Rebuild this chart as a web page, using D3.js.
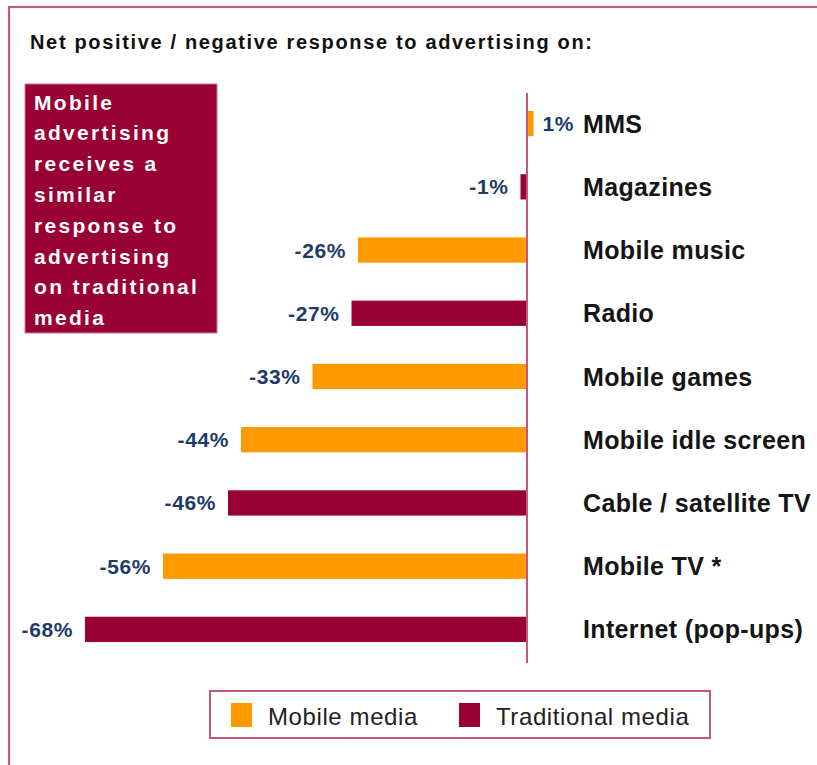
<!DOCTYPE html>
<html>
<head>
<meta charset="utf-8">
<script src="https://cdn.jsdelivr.net/npm/d3@7"></script>
<style>
  html, body { margin: 0; padding: 0; background: #ffffff; }
  svg { display: block; }
  text { font-family: "Liberation Sans", Arial, sans-serif; }
</style>
</head>
<body>
<svg id="chart" width="817" height="765"></svg>
<script>
// Survey results: net positive / negative response to advertising by medium
const categories = [
  "MMS", "Magazines", "Mobile music", "Radio", "Mobile games",
  "Mobile idle screen", "Cable / satellite TV", "Mobile TV *", "Internet (pop-ups)"
];
const values = [1, -1, -26, -27, -33, -44, -46, -56, -68];
const mediaTypes = [
  "Mobile media", "Traditional media", "Mobile media", "Traditional media", "Mobile media",
  "Mobile media", "Traditional media", "Mobile media", "Traditional media"
];
const legendLabels = ["Mobile media", "Traditional media"];
const titleText = "Net positive / negative response to advertising on:";
const noteLines = [
  "Mobile", "advertising", "receives a", "similar",
  "response to", "advertising", "on traditional", "media"
];

const ORANGE = "#ff9900";
const MAROON = "#990033";
const FRAME = "#c4577e";
const NAVY = "#1d3b69";

const svg = d3.select("#chart");

const color = d3.scaleOrdinal().domain(legendLabels).range([ORANGE, MAROON]);

const x = d3.scaleLinear().domain([-68, 0]).range([85, 527]);
const y = d3.scaleBand()
  .domain(categories)
  .range([92, 661])
  .paddingInner(0.6)
  .paddingOuter(0.3);

// Stretch text horizontally with letter spacing until it spans the given width
function fitWidth(sel, width) {
  sel.each(function () {
    const t = d3.select(this);
    const n = this.getNumberOfChars();
    const w = this.getComputedTextLength();
    if (n > 1) t.attr("letter-spacing", ((width - w) / (n - 1)).toFixed(2));
  });
}

// percentage with a plain hyphen for negatives
const pct = v => `${v}%`;

// outer frame (runs off the right and bottom edges)
svg.append("rect")
  .attr("x", 9).attr("y", 7)
  .attr("width", 840).attr("height", 800)
  .attr("fill", "none")
  .attr("stroke", FRAME)
  .attr("stroke-width", 2.2);

// title
svg.append("text")
  .attr("x", 30).attr("y", 48.5)
  .attr("font-size", 20)
  .attr("font-weight", "bold")
  .attr("fill", "#111")
  .text(titleText)
  .call(fitWidth, 562);

// note box
const note = svg.append("g");
note.append("rect")
  .attr("x", 25).attr("y", 84)
  .attr("width", 192).attr("height", 249)
  .attr("fill", MAROON)
  .attr("stroke", "#c97a95")
  .attr("stroke-width", 1);
note.selectAll("text")
  .data(noteLines)
  .join("text")
  .attr("x", 34)
  .attr("y", (d, i) => 109.5 + i * 30.8)
  .attr("font-size", 21)
  .attr("font-weight", "bold")
  .attr("fill", "#ffffff")
  .attr("letter-spacing", 2.3)
  .text(d => d);

// bars
svg.append("g")
  .selectAll("rect")
  .data(categories)
  .join("rect")
  .attr("x", (d, i) => Math.min(x(values[i]), x(0)))
  .attr("y", d => y(d))
  .attr("width", (d, i) => Math.abs(x(values[i]) - x(0)))
  .attr("height", y.bandwidth())
  .attr("fill", (d, i) => color(mediaTypes[i]));

// zero line
svg.append("line")
  .attr("x1", x(0)).attr("x2", x(0))
  .attr("y1", 93).attr("y2", 663)
  .attr("stroke", FRAME)
  .attr("stroke-width", 2);

// value labels
svg.append("g")
  .selectAll("text")
  .data(categories)
  .join("text")
  .attr("x", (d, i) => values[i] < 0 ? x(values[i]) - 12 : x(values[i]) + 9)
  .attr("y", d => y(d) + y.bandwidth() / 2 + 7.5)
  .attr("text-anchor", (d, i) => values[i] < 0 ? "end" : "start")
  .attr("font-size", 21)
  .attr("font-weight", "bold")
  .attr("fill", NAVY)
  .attr("letter-spacing", 0.6)
  .text((d, i) => pct(values[i]));

// category labels
svg.append("g")
  .selectAll("text")
  .data(categories)
  .join("text")
  .attr("x", 583)
  .attr("y", d => y(d) + y.bandwidth() / 2 + 9)
  .attr("font-size", 25)
  .attr("font-weight", "bold")
  .attr("fill", "#151515")
  .attr("letter-spacing", 0.35)
  .text(d => d);

// legend
const legend = svg.append("g");
legend.append("rect")
  .attr("x", 210).attr("y", 691)
  .attr("width", 500).attr("height", 47)
  .attr("fill", "#ffffff")
  .attr("stroke", FRAME)
  .attr("stroke-width", 2);

const legendX = d3.scaleOrdinal().domain(legendLabels).range([231, 459]);
const items = legend.selectAll("g.item")
  .data(legendLabels)
  .join("g")
  .attr("class", "item")
  .attr("transform", d => `translate(${legendX(d)},0)`);
items.append("rect")
  .attr("x", 0).attr("y", 703)
  .attr("width", 21).attr("height", 24)
  .attr("fill", d => color(d));
items.append("text")
  .attr("x", 37).attr("y", 725)
  .attr("font-size", 24)
  .attr("fill", "#222")
  .attr("letter-spacing", 0.6)
  .text(d => d);
</script>
</body>
</html>
